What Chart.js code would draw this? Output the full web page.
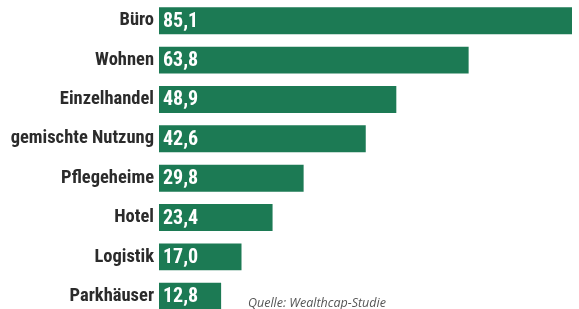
<!DOCTYPE html>
<html>
<head>
<meta charset="utf-8">
<script src="https://cdn.jsdelivr.net/npm/chart.js@4"></script>
<style>
    html, body { margin: 0; padding: 0; background: #fff; overflow: hidden; }
    .wrap { position: relative; width: 579px; height: 309px; overflow: hidden; }
    /* taller than the window: the last bar is cut at the bottom edge like the original */
    .box { position: absolute; left: 0; top: -15px; width: 579px; height: 347px; }
    .source {
        position: absolute; left: 248px; top: 294px;
        font-family: "Open Sans", sans-serif; font-style: italic;
        font-size: 12.5px; color: #555; white-space: nowrap;
    }
</style>
</head>
<body>
<div class="wrap">
    <div class="box"><canvas id="chart"></canvas></div>
    <div class="source">Quelle: Wealthcap-Studie</div>
</div>
<script>
// --- Data ---
const categories = ['Büro', 'Wohnen', 'Einzelhandel', 'gemischte Nutzung', 'Pflegeheime', 'Hotel', 'Logistik', 'Parkhäuser'];
const values = [85.1, 63.8, 48.9, 42.6, 29.8, 23.4, 17.0, 12.8];

const barColor = '#1c7a54';
const labelFont = '"Roboto Condensed", "Roboto", sans-serif';

// Writes the value inside each bar, at its left end
const valueLabels = {
    id: 'valueLabels',
    afterDatasetsDraw(chart) {
        const ctx = chart.ctx;
        const meta = chart.getDatasetMeta(0);
        const xScale = chart.scales.x;
        ctx.save();
        ctx.font = 'bold 20px ' + labelFont;
        ctx.fillStyle = '#ffffff';
        ctx.textAlign = 'left';
        ctx.textBaseline = 'middle';
        meta.data.forEach((bar, i) => {
            const text = values[i].toFixed(1).replace('.', ',');
            ctx.fillText(text, xScale.getPixelForValue(0) + 4, bar.y + 1);
        });
        ctx.restore();
    }
};

const ctx = document.getElementById('chart').getContext('2d');
new Chart(ctx, {
    type: 'bar',
    data: {
        labels: categories,
        datasets: [{
            data: values,
            backgroundColor: barColor,
            borderWidth: 0,
            categoryPercentage: 0.685,
            barPercentage: 1
        }]
    },
    options: {
        indexAxis: 'y',
        responsive: true,
        maintainAspectRatio: false,
        animation: false,
        layout: { padding: { top: 0, right: 7, bottom: 0, left: 0 } },
        plugins: {
            legend: { display: false },
            tooltip: { enabled: false }
        },
        scales: {
            x: {
                display: false,
                min: 0,
                max: Math.max(...values)
            },
            y: {
                afterFit(scale) { scale.width = 159; },
                grid: { display: false, drawTicks: false },
                border: { display: false },
                ticks: {
                    padding: 5,
                    color: '#2b2b2b',
                    font: { family: labelFont, size: 18.5, weight: 'bold' }
                }
            }
        }
    },
    plugins: [valueLabels]
});
</script>
</body>
</html>
